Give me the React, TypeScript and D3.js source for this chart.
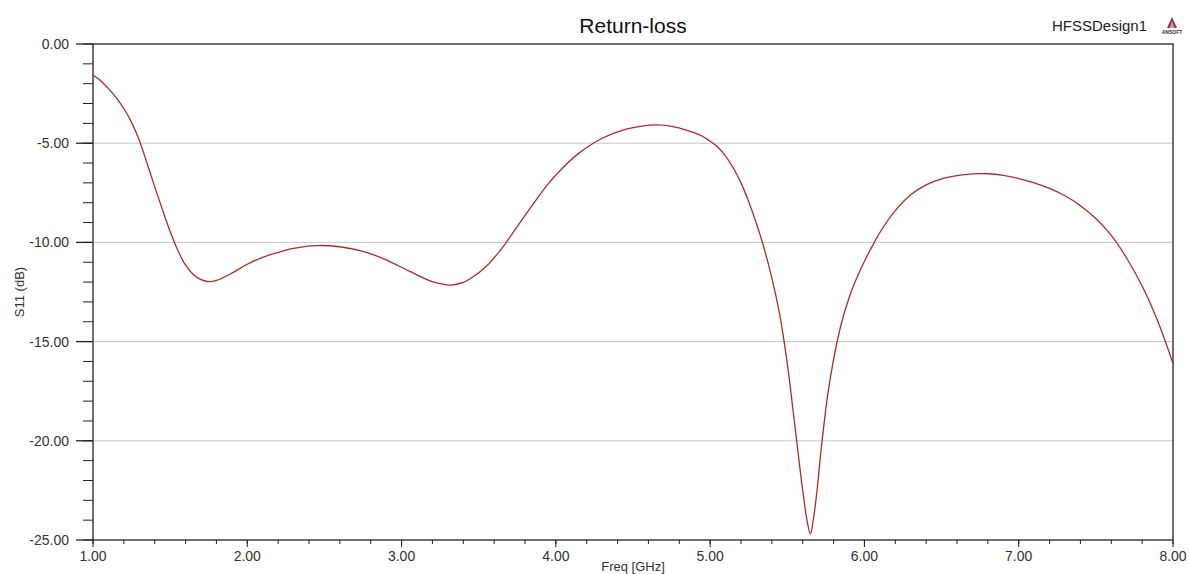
import React from "react";
import * as d3 from "d3";

// S11 sweep
const freqGHz = [
  1.0, 1.05, 1.1, 1.15, 1.2, 1.25, 1.3, 1.35, 1.4, 1.45, 1.5, 1.55, 1.6, 1.65,
  1.7, 1.75, 1.8, 1.9, 2.0, 2.1, 2.2, 2.3, 2.45, 2.6, 2.75, 2.9, 3.05, 3.2,
  3.32, 3.4, 3.45, 3.55, 3.65, 3.75, 3.85, 3.95, 4.05, 4.15, 4.3, 4.45, 4.55,
  4.66, 4.75, 4.85, 4.95, 5.0, 5.05, 5.1, 5.15, 5.2, 5.25, 5.3, 5.35, 5.4,
  5.45, 5.5, 5.55, 5.6, 5.63, 5.65, 5.67, 5.69, 5.72, 5.76, 5.8, 5.85, 5.9,
  5.95, 6.0, 6.05, 6.1, 6.2, 6.3, 6.4, 6.5, 6.6, 6.7, 6.8, 6.9, 7.0, 7.1,
  7.2, 7.3, 7.4, 7.5, 7.6, 7.7, 7.8, 7.9, 8.0,
];
const s11dB = [
  -1.56, -1.85, -2.25, -2.7, -3.25, -3.95, -4.85, -6.0, -7.2, -8.35, -9.45,
  -10.4, -11.15, -11.62, -11.88, -11.98, -11.92, -11.55, -11.1, -10.75, -10.5,
  -10.3, -10.16, -10.22, -10.45, -10.88, -11.45, -11.98, -12.15, -12.02,
  -11.81, -11.2, -10.3, -9.2, -8.1, -7.05, -6.2, -5.5, -4.75, -4.3, -4.15,
  -4.08, -4.15, -4.35, -4.65, -4.9, -5.2, -5.65, -6.25, -7.0, -7.95, -9.05,
  -10.3, -11.8, -13.6, -16.1, -19.3, -22.5, -24.1, -24.7, -23.9, -22.7,
  -20.4, -17.8, -15.9, -14.1, -12.8, -11.8, -10.95, -10.2, -9.5, -8.4, -7.6,
  -7.1, -6.8, -6.63, -6.55, -6.54, -6.62, -6.78, -7.0, -7.28, -7.65, -8.15,
  -8.8, -9.65, -10.8, -12.2, -13.95, -16.1,
];

const xMajor = [1, 2, 3, 4, 5, 6, 7, 8];
const yMajor = [0, -5, -10, -15, -20, -25];
const yGrid = [-5, -10, -15, -20];

const W = 1189;
const H = 574;
const left = 93;
const right = 1173;
const top = 44;
const bottom = 540;
const font = "Arial, 'Liberation Sans', sans-serif";

export default function App() {
  const x = d3.scaleLinear().domain([1, 8]).range([left, right]);
  const y = d3.scaleLinear().domain([-25, 0]).range([bottom, top]);

  const line = d3
    .line<number>()
    .x((_, i) => x(freqGHz[i]))
    .y((d) => y(d))
    .curve(d3.curveCatmullRom.alpha(0.5));

  const xMinor = d3.range(1, 8.001, 0.2).map((v) => +v.toFixed(1));
  const yMinor = d3.range(-25, 0.001, 1);

  return (
    <svg
      width={W}
      height={H}
      style={{ position: "absolute", left: 0, top: 0, background: "#fff" }}
      fontFamily={font}
    >
      <rect width={W} height={H} fill="#fff" />

      {/* grid */}
      {yGrid.map((v) => (
        <line key={"g" + v} x1={left} x2={right} y1={y(v)} y2={y(v)} stroke="#c8c8c8" strokeWidth={1} />
      ))}

      {/* ticks */}
      {yMinor.map((v) => (
        <line key={"ym" + v} x1={left - 10} x2={left} y1={y(v)} y2={y(v)} stroke="#222" strokeWidth={1} />
      ))}
      {yMajor.map((v) => (
        <line key={"yM" + v} x1={left - 17} x2={left} y1={y(v)} y2={y(v)} stroke="#222" strokeWidth={1.3} />
      ))}
      {xMinor.map((v) => (
        <line key={"xm" + v} x1={x(v)} x2={x(v)} y1={bottom} y2={bottom + 4} stroke="#222" strokeWidth={1} />
      ))}
      {xMajor.map((v) => (
        <line key={"xM" + v} x1={x(v)} x2={x(v)} y1={bottom} y2={bottom + 7} stroke="#222" strokeWidth={1} />
      ))}

      {/* frame */}
      <rect x={left} y={top} width={right - left} height={bottom - top} fill="none" stroke="#222" strokeWidth={1.3} />

      {/* curve */}
      <path d={line(s11dB) || ""} fill="none" stroke="#b02a2a" strokeWidth={1.3} />

      {/* tick labels */}
      {yMajor.map((v) => (
        <text key={"yl" + v} x={left - 24} y={y(v)} dy="0.35em" textAnchor="end" fontSize={14} fill="#333">
          {v.toFixed(2)}
        </text>
      ))}
      {xMajor.map((v) => (
        <text key={"xl" + v} x={x(v)} y={561} textAnchor="middle" fontSize={14} fill="#333">
          {v.toFixed(2)}
        </text>
      ))}

      {/* titles */}
      <text x={(left + right) / 2} y={33} textAnchor="middle" fontSize={21} fill="#111">
        Return-loss
      </text>
      <text x={(left + right) / 2} y={571} textAnchor="middle" fontSize={13} fill="#333">
        Freq [GHz]
      </text>
      <text
        transform={`translate(24,${(top + bottom) / 2}) rotate(-90)`}
        textAnchor="middle"
        fontSize={13}
        fill="#333"
      >
        S11 (dB)
      </text>
      <text x={1147} y={31} textAnchor="end" fontSize={15} fill="#222">
        HFSSDesign1
      </text>

      {/* ANSOFT mark */}
      <g transform="translate(1172,17)">
        <path d="M0,0 L-5,11 L5,11 Z" fill="#9a3040" />
        <path d="M0,4 L-2.5,11 L2.5,11 Z" fill="#fff" opacity={0.5} />
        <text x={0} y={17} textAnchor="middle" fontSize={5} fontWeight="bold" fill="#333">
          ANSOFT
        </text>
      </g>
    </svg>
  );
}
